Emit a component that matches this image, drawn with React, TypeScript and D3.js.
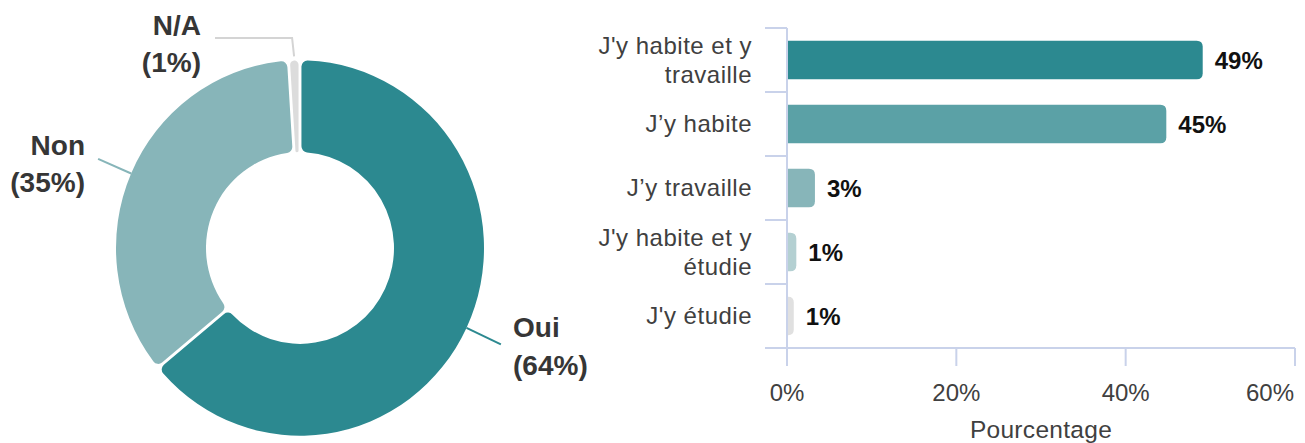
import React from "react";
import * as d3 from "d3";

// Donut: response shares
const answerLabels = ["Oui", "Non", "N/A"];
const answerValues = [64, 35, 1];
const answerColors = ["#2c8990", "#87b5b9", "#dcdcdc"];

// Bars: relation to the place
const relationLabels = [
  ["J'y habite et y", "travaille"],
  ["J\u2019y habite"],
  ["J\u2019y travaille"],
  ["J'y habite et y", "\u00e9tudie"],
  ["J'y \u00e9tudie"],
];
const relationValues = [49.1, 44.8, 3.3, 1.1, 0.8];
const relationColors = ["#2c8990", "#5ba1a6", "#87b5b9", "#b4d0d2", "#e0e0e0"];
const xTicks = [0, 20, 40, 60];

const W = 1305;
const H = 443;
const FONT = "'Liberation Sans', Arial, Helvetica, sans-serif";
const AXIS = "#c9d2ea";
const TEXT = "#404040";

const Donut = () => {
  const cx = 300;
  const cy = 248;
  const outer = 184;
  const inner = 94;

  const pie = d3.pie<number>().sort(null).value((d) => d);
  const arcs = pie(answerValues);
  const arc = d3
    .arc<d3.PieArcDatum<number>>()
    .innerRadius(inner)
    .outerRadius(outer)
    .cornerRadius(6)
    .padAngle(0.014);

  const dir = (a: d3.PieArcDatum<number>) => {
    const m = (a.startAngle + a.endAngle) / 2;
    return [Math.sin(m), -Math.cos(m)];
  };

  // leader lines
  const [ox, oy] = dir(arcs[0]);
  const [nx, ny] = dir(arcs[1]);
  const [ax, ay] = dir(arcs[2]);

  const labelStyle = { fontFamily: FONT, fontWeight: 700, fontSize: 28, fill: "#363636" };

  return (
    <g>
      <g transform={`translate(${cx},${cy}) scale(1,1.02)`}>
        {arcs.map((a, i) => (
          <path key={answerLabels[i]} d={arc(a) ?? ""} fill={answerColors[i]} />
        ))}
      </g>
      <line
        x1={cx + ox * outer}
        y1={cy + oy * outer * 1.02}
        x2={cx + ox * (outer + 38)}
        y2={cy + oy * (outer + 38) * 1.02}
        stroke={answerColors[0]}
        strokeWidth={2}
      />
      <line
        x1={cx + nx * outer}
        y1={cy + ny * outer * 1.02}
        x2={cx + nx * (outer + 36)}
        y2={cy + ny * (outer + 36) * 1.02}
        stroke={answerColors[1]}
        strokeWidth={2}
      />
      <polyline
        points={`${cx + ax * (outer + 4)},${cy + ay * (outer + 4) * 1.02} ${cx + ax * (outer + 4) - 2},38 215,38`}
        fill="none"
        stroke="#d4d4d4"
        strokeWidth={2}
      />
      <text {...labelStyle} x={513} y={337}>
        {answerLabels[0]}
      </text>
      <text {...labelStyle} x={513} y={375}>
        ({answerValues[0]}%)
      </text>
      <text {...labelStyle} x={85} y={155} textAnchor="end">
        {answerLabels[1]}
      </text>
      <text {...labelStyle} x={85} y={192} textAnchor="end">
        ({answerValues[1]}%)
      </text>
      <text {...labelStyle} x={201} y={35} textAnchor="end">
        {answerLabels[2]}
      </text>
      <text {...labelStyle} x={201} y={72} textAnchor="end">
        ({answerValues[2]}%)
      </text>
    </g>
  );
};

const Bars = () => {
  const x = d3.scaleLinear().domain([0, 60]).range([787, 1295]);
  const y = d3
    .scaleBand<number>()
    .domain(relationValues.map((_, i) => i))
    .range([28, 348])
    .paddingInner(0.4)
    .paddingOuter(0.2);
  const step = y.step();
  const bw = y.bandwidth();
  const r = 6;

  const barPath = (v: number, top: number) => {
    const x0 = x(0);
    const x1 = x(v);
    const rr = Math.min(r, (x1 - x0) / 1.2);
    return `M${x0},${top}H${x1 - rr}Q${x1},${top} ${x1},${top + rr}V${top + bw - rr}Q${x1},${top + bw} ${x1 - rr},${top + bw}H${x0}Z`;
  };

  const bounds = d3.range(relationValues.length + 1).map((i) => 28 + i * step);

  return (
    <g fontFamily={FONT}>
      {relationValues.map((v, i) => {
        const top = y(i) ?? 0;
        const mid = top + bw / 2;
        const lines = relationLabels[i];
        return (
          <g key={i}>
            <path d={barPath(v, top)} fill={relationColors[i]} />
            <text x={x(v) + 12} y={mid + 8.5} fontSize={24} fontWeight={700} fill="#111">
              {Math.round(v)}%
            </text>
            {lines.map((ln, j) => (
              <text
                key={j}
                x={752}
                y={mid + 8 + (j - (lines.length - 1) / 2) * 29}
                textAnchor="end"
                fontSize={24}
                letterSpacing={0.5}
                fill={TEXT}
              >
                {ln}
              </text>
            ))}
          </g>
        );
      })}
      {bounds.map((b, i) => (
        <line key={`t${i}`} x1={765} x2={787} y1={b} y2={b} stroke={AXIS} strokeWidth={2} />
      ))}
      <line x1={787} x2={787} y1={28} y2={366} stroke={AXIS} strokeWidth={2} />
      <line x1={765} x2={1295} y1={348} y2={348} stroke={AXIS} strokeWidth={2} />
      {xTicks.map((t, i) => (
        <g key={t}>
          <line x1={x(t)} x2={x(t)} y1={348} y2={366} stroke={AXIS} strokeWidth={2} />
          <text
            x={i === xTicks.length - 1 ? x(t) - 1 : x(t)}
            y={401}
            textAnchor={i === xTicks.length - 1 ? "end" : "middle"}
            fontSize={24}
            fill={TEXT}
          >
            {t}%
          </text>
        </g>
      ))}
      <text
        x={(x(0) + x(60)) / 2}
        y={438}
        textAnchor="middle"
        fontSize={24.5}
        letterSpacing={0.3}
        fill={TEXT}
      >
        Pourcentage
      </text>
    </g>
  );
};

export default function App() {
  return (
    <svg
      width={W}
      height={H}
      style={{ position: "absolute", left: 0, top: 0, background: "#fff" }}
    >
      <Donut />
      <Bars />
    </svg>
  );
}
